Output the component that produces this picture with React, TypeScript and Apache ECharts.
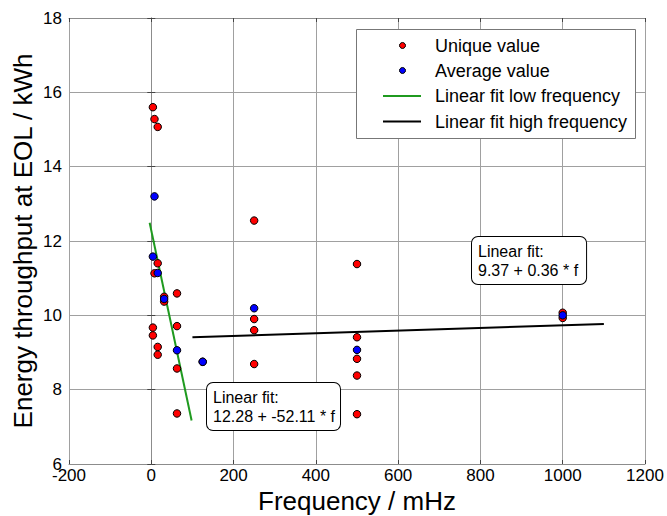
import React, { useEffect, useRef } from "react";
import * as echarts from "echarts";

const uniqueValues: [number, number][] = [
  [3.9, 15.6], [3.9, 9.67], [3.9, 9.46],
  [7.8, 15.28], [7.8, 11.13],
  [15.6, 15.07], [15.6, 11.4], [15.6, 9.15], [15.6, 8.94],
  [31.25, 10.5], [31.25, 10.37],
  [62.5, 10.59], [62.5, 9.71], [62.5, 8.57], [62.5, 7.36],
  [125, 8.75],
  [250, 12.55], [250, 9.9], [250, 9.6], [250, 8.69],
  [500, 11.38], [500, 9.41], [500, 8.83], [500, 8.38], [500, 7.34],
  [1000, 10.07], [1000, 9.93],
];

const averageValues: [number, number][] = [
  [3.9, 11.58], [7.8, 13.2], [15.6, 11.14], [31.25, 10.44], [62.5, 9.06],
  [125, 8.75], [250, 10.19], [500, 9.07], [1000, 10.0],
];

const fitLow: [number, number][] = [[-4, 12.49], [98, 7.17]];
const fitHigh: [number, number][] = [[100, 9.41], [1100, 9.77]];

const legendLabels = ["Unique value", "Average value", "Linear fit low frequency", "Linear fit high frequency"];
const annotationLow = ["Linear fit:", "12.28 + -52.11 * f"];
const annotationHigh = ["Linear fit:", "9.37 + 0.36 * f"];

const FONT = "Liberation Sans, Arial, Helvetica, sans-serif";

export default function App() {
  const ref = useRef<HTMLDivElement>(null);
  useEffect(() => {
    if (!ref.current) return;
    const chart = echarts.init(ref.current, undefined, { renderer: "svg" });
    const gray = "#8c8c8c";
    const legendRows = [45.5, 70.5, 96, 121.5];
    const fmt = (v: number) => String(v);
    const option: any = {
      animation: false,
      backgroundColor: "#fff",
      textStyle: { fontFamily: FONT },
      grid: { left: 69, right: 22, top: 18, bottom: 52, containLabel: false, outerBoundsMode: "none" },
      xAxis: [
        {
          type: "value", min: -200, max: 1200, interval: 200,
          name: "Frequency / mHz", nameLocation: "middle", nameGap: 24, nameMoveOverlap: false,
          nameTextStyle: { fontSize: 26, color: "#000", fontFamily: FONT },
          axisLine: { show: true, lineStyle: { color: gray } },
          axisTick: { show: true, inside: true, length: 4, lineStyle: { color: "#444" } },
          axisLabel: { fontSize: 17, color: "#000", margin: 3, fontFamily: FONT, formatter: fmt },
          splitLine: { show: true, lineStyle: { color: "#a0a0a0", width: 1 } },
        },
        {
          type: "value", position: "top", min: -200, max: 1200, interval: 200,
          axisLine: { show: true, lineStyle: { color: gray } },
          axisTick: { show: true, inside: true, length: 4, lineStyle: { color: "#444" } },
          axisLabel: { show: false }, splitLine: { show: false },
        },
      ],
      yAxis: [
        {
          type: "value", min: 6, max: 18, interval: 2,
          name: "Energy throughput at EOL / kWh", nameLocation: "middle", nameGap: 33, nameMoveOverlap: false,
          nameTextStyle: { fontSize: 26, color: "#000", fontFamily: FONT },
          axisLine: { show: true, lineStyle: { color: gray } },
          axisTick: { show: true, inside: true, length: 4, lineStyle: { color: "#444" } },
          axisLabel: { fontSize: 17, color: "#000", margin: 7, fontFamily: FONT, formatter: fmt },
          splitLine: { show: true, lineStyle: { color: "#a0a0a0", width: 1 } },
        },
        {
          type: "value", position: "right", min: 6, max: 18, interval: 2,
          axisLine: { show: true, lineStyle: { color: gray } },
          axisTick: { show: true, inside: true, length: 4, lineStyle: { color: "#444" } },
          axisLabel: { show: false }, splitLine: { show: false },
        },
      ],
      series: [
        {
          name: legendLabels[2], type: "line", data: fitLow, symbol: "none",
          lineStyle: { color: "#1f9a1f", width: 2 }, z: 2,
        },
        {
          name: legendLabels[3], type: "line", data: fitHigh, symbol: "none",
          lineStyle: { color: "#000", width: 2 }, z: 2,
        },
        {
          name: legendLabels[0], type: "scatter", data: uniqueValues, symbolSize: 7.5,
          itemStyle: { color: "#ff0000", borderColor: "#000", borderWidth: 1, opacity: 1 }, z: 3,
        },
        {
          name: legendLabels[1], type: "scatter", data: averageValues, symbolSize: 7.5,
          itemStyle: { color: "#0000ff", borderColor: "#000", borderWidth: 1, opacity: 1 }, z: 4,
        },
      ],
      graphic: [
        {
          type: "rect", shape: { x: 356.5, y: 29.5, width: 279, height: 109 },
          style: { fill: "#fff", stroke: "#777", lineWidth: 1 }, z: 100,
        },
        { type: "circle", shape: { cx: 402.5, cy: legendRows[0], r: 3 }, style: { fill: "#ff0000", stroke: "#000", lineWidth: 1 }, z: 101 },
        { type: "circle", shape: { cx: 402.5, cy: legendRows[1], r: 3 }, style: { fill: "#0000ff", stroke: "#000", lineWidth: 1 }, z: 101 },
        { type: "line", shape: { x1: 383, y1: legendRows[2], x2: 421, y2: legendRows[2] }, style: { stroke: "#1f9a1f", lineWidth: 2 }, z: 101 },
        { type: "line", shape: { x1: 383, y1: legendRows[3], x2: 421, y2: legendRows[3] }, style: { stroke: "#000", lineWidth: 2 }, z: 101 },
        ...legendLabels.map((t, i) => ({
          type: "text", x: 435, y: legendRows[i], z: 101,
          style: { text: t, fontSize: 18, fill: "#000", fontFamily: FONT, verticalAlign: "middle" },
        })),
        {
          type: "text", x: 207, y: 383, z: 101,
          style: {
            text: annotationLow.join("\n"), fontSize: 16, lineHeight: 19, fill: "#000", fontFamily: FONT,
            backgroundColor: "#fff", borderColor: "#000", borderWidth: 1, borderRadius: 6,
            padding: [5, 5, 4, 6],
          },
        },
        {
          type: "text", x: 472, y: 237, z: 101,
          style: {
            text: annotationHigh.join("\n"), fontSize: 16, lineHeight: 19, fill: "#000", fontFamily: FONT,
            backgroundColor: "#fff", borderColor: "#000", borderWidth: 1, borderRadius: 6,
            padding: [5, 8, 4, 6],
          },
        },
      ],
    };
    chart.setOption(option);
    return () => chart.dispose();
  }, []);
  return <div ref={ref} style={{ width: 667, height: 516, position: "absolute", left: 0, top: 0 }} />;
}
